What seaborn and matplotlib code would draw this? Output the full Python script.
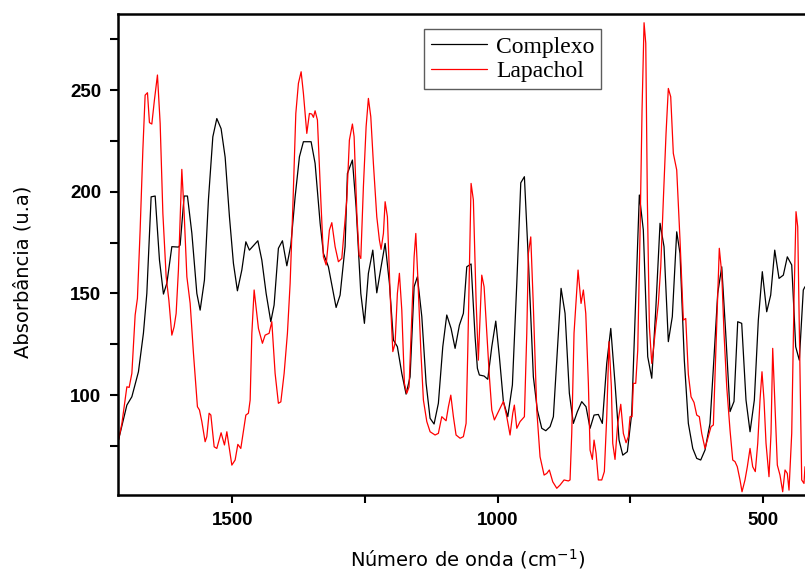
import matplotlib
matplotlib.use("Agg")
import matplotlib.pyplot as plt
from matplotlib.ticker import MultipleLocator
import seaborn as sns
import pandas as pd

series_names = ["Complexo", "Lapachol"]
series_colors = ["black", "red"]

complexo_wn = [1714.1, 1698.3, 1688.9, 1676.5, 1667.1, 1660.7, 1652.6, 1645.0, 1636.9, 1629.4,
               1623.0, 1613.6, 1601.2, 1598.0, 1590.4, 1584.2, 1575.9, 1566.5, 1560.3, 1552.2,
               1544.7, 1536.4, 1528.9, 1520.8, 1513.2, 1505.1, 1497.6, 1490.1, 1481.8, 1474.2,
               1467.5, 1451.6, 1444.1, 1436.0, 1427.2, 1421.0, 1412.9, 1405.3, 1397.0, 1389.5,
               1381.4, 1373.3, 1365.8, 1351.3, 1343.8, 1334.3, 1328.1, 1318.7, 1310.4, 1304.2,
               1296.7, 1287.3, 1282.9, 1273.5, 1266.6, 1257.7, 1250.9, 1243.4, 1235.1, 1227.6,
               1219.5, 1211.9, 1203.8, 1196.3, 1188.8, 1180.5, 1172.4, 1164.9, 1157.3, 1151.1,
               1142.8, 1134.7, 1127.2, 1119.7, 1111.6, 1103.3, 1095.8, 1087.7, 1080.1, 1072.0,
               1064.5, 1058.1, 1050.0, 1042.5, 1038.1, 1034.4, 1025.5, 1018.6, 1011.0, 1003.5,
               996.7, 989.2, 980.9, 972.2, 963.9, 956.4, 949.6, 942.1, 932.7, 925.2,
               916.9, 909.3, 901.2, 895.0, 888.6, 880.5, 873.0, 864.9, 857.4, 849.8,
               841.6, 833.5, 825.9, 818.4, 810.3, 802.8, 794.5, 786.9, 778.9, 771.3,
               764.3, 755.7, 747.4, 739.9, 733.1, 725.6, 717.3, 709.7, 702.2, 694.1,
               686.6, 678.5, 671.0, 662.7, 656.5, 648.4, 640.8, 632.5, 625.0, 617.5,
               609.4, 600.0, 592.4, 585.5, 577.9, 570.4, 562.3, 554.8, 547.8, 540.3,
               532.2, 524.6, 516.5, 509.0, 501.5, 493.2, 485.7, 478.1, 470.0, 461.9,
               454.4, 446.1, 438.6, 431.8, 424.3, 421.1]
complexo_abs = [77.9, 95.1, 99.2, 111.5, 130.5, 150.0, 197.5, 197.9, 166.4, 149.7,
                155.0, 173.0, 172.8, 173.8, 197.9, 197.9, 179.6, 150.0, 141.8, 156.6,
                196.0, 227.0, 236.0, 231.0, 217.0, 187.7, 164.8, 151.3, 161.5, 175.4,
                171.3, 175.9, 166.4, 150.0, 136.1, 144.3, 172.2, 175.9, 163.6, 173.8,
                197.5, 217.2, 224.6, 224.6, 214.0, 184.5, 169.7, 163.1, 151.7, 143.1,
                149.2, 173.0, 209.0, 215.6, 192.6, 150.0, 135.3, 159.9, 171.3, 150.3,
                163.1, 174.6, 155.0, 127.1, 123.8, 110.7, 100.5, 109.0, 153.3, 158.2,
                138.6, 105.8, 88.6, 85.8, 96.0, 123.8, 139.4, 132.8, 123.0, 134.4,
                140.2, 163.1, 164.5, 128.8, 113.2, 109.9, 109.4, 107.8, 123.8, 136.4,
                118.9, 96.9, 89.4, 105.0, 155.0, 204.4, 207.4, 166.4, 109.0, 92.7,
                83.7, 82.5, 84.5, 89.4, 117.2, 152.5, 140.2, 100.9, 86.1, 91.9,
                96.8, 94.3, 83.7, 90.2, 90.5, 86.1, 115.6, 132.8, 105.8, 77.9,
                70.5, 72.2, 91.1, 146.7, 198.4, 181.2, 118.9, 108.3, 141.8, 184.5,
                173.0, 126.3, 138.6, 180.3, 169.7, 117.2, 86.1, 73.8, 68.9, 68.1,
                73.0, 86.1, 118.9, 150.0, 163.1, 130.4, 91.9, 96.9, 136.1, 135.3,
                97.6, 82.0, 97.6, 136.9, 160.7, 141.0, 149.2, 171.3, 157.4, 159.0,
                168.0, 164.0, 123.8, 117.2, 151.7, 153.3]

lapachol_wn = [1714.1, 1707.7, 1698.3, 1694.0, 1688.9, 1682.7, 1678.4, 1673.3, 1668.2, 1663.9,
               1659.5, 1655.8, 1651.3, 1646.4, 1640.7, 1635.6, 1630.5, 1624.3, 1619.2, 1613.6,
               1609.3, 1605.5, 1601.2, 1594.8, 1590.4, 1585.3, 1579.1, 1572.9, 1565.4, 1561.6,
               1557.1, 1550.9, 1547.7, 1543.4, 1540.1, 1533.9, 1528.9, 1520.8, 1514.5, 1510.0,
               1500.6, 1494.4, 1489.3, 1483.7, 1474.2, 1469.4, 1466.1, 1462.9, 1458.6, 1450.5,
               1443.0, 1437.9, 1430.4, 1425.3, 1419.1, 1412.9, 1408.3, 1402.1, 1395.9, 1390.8,
               1385.7, 1380.1, 1375.2, 1370.1, 1365.8, 1359.4, 1354.5, 1350.0, 1346.9, 1343.8,
               1339.4, 1333.0, 1328.1, 1323.0, 1316.8, 1312.3, 1306.1, 1299.9, 1293.5, 1284.1,
               1279.2, 1273.5, 1270.3, 1265.2, 1260.9, 1257.7, 1252.8, 1247.7, 1243.4, 1238.9,
               1234.0, 1227.6, 1222.7, 1219.5, 1215.1, 1211.9, 1207.6, 1202.5, 1197.4, 1193.1,
               1188.8, 1185.0, 1180.5, 1175.6, 1171.1, 1166.8, 1161.7, 1157.3, 1154.1, 1150.4,
               1144.7, 1139.8, 1133.4, 1127.2, 1117.8, 1111.6, 1105.2, 1097.1, 1092.7, 1088.2,
               1083.3, 1078.3, 1070.7, 1064.5, 1059.4, 1056.2, 1053.2, 1050.0, 1045.7, 1040.6,
               1036.3, 1029.9, 1025.5, 1020.4, 1015.5, 1011.0, 1006.1, 1001.6, 996.7, 989.2,
               982.8, 976.6, 971.5, 968.5, 963.9, 957.7, 949.6, 945.1, 942.1, 937.6,
               932.7, 926.3, 920.1, 912.5, 907.5, 902.6, 896.2, 888.6, 882.4, 874.9,
               866.8, 863.6, 860.4, 856.1, 848.5, 842.9, 838.5, 834.0, 829.1, 825.9,
               821.6, 818.4, 814.6, 810.3, 803.9, 799.0, 794.5, 790.2, 785.8, 783.2,
               778.9, 773.8, 768.1, 763.2, 758.1, 753.8, 750.6, 746.8, 744.4, 739.9,
               736.1, 731.8, 728.0, 724.2, 721.0, 718.0, 714.2, 709.7, 706.7, 702.2,
               697.3, 692.8, 687.9, 682.8, 678.5, 674.0, 669.1, 662.7, 656.5, 650.2,
               645.7, 640.8, 635.7, 630.1, 625.0, 620.1, 615.6, 609.4, 603.2, 598.1,
               593.7, 588.7, 582.5, 577.9, 573.6, 568.5, 562.3, 557.2, 552.9, 548.6,
               543.5, 539.7, 534.1, 529.7, 524.6, 519.6, 514.7, 510.1, 505.8, 502.1,
               498.3, 494.5, 488.9, 485.1, 481.9, 477.6, 473.2, 468.2, 463.1, 458.7,
               454.4, 451.2, 446.1, 441.8, 438.0, 434.8, 430.5, 427.3, 423.0, 421.1]
lapachol_abs = [77.9, 86.0, 104.1, 103.8, 110.7, 139.4, 147.6, 181.2, 220.5, 247.5,
                248.7, 234.0, 233.3, 245.1, 257.4, 233.6, 189.4, 158.2, 146.7, 129.5,
                133.6, 140.2, 161.5, 211.0, 189.4, 158.2, 145.1, 120.6, 94.3, 92.7,
                87.0, 77.1, 79.6, 91.1, 90.2, 74.6, 73.8, 81.5, 75.5, 82.0,
                65.6, 68.1, 75.8, 73.8, 90.2, 91.1, 97.6, 130.4, 151.7, 132.8,
                125.5, 129.5, 130.4, 136.1, 110.7, 96.0, 96.7, 110.7, 130.4, 155.0,
                192.6, 238.5, 253.3, 259.0, 248.4, 228.7, 238.5, 238.2, 236.6, 239.8,
                235.3, 196.0, 168.0, 164.0, 181.2, 184.8, 173.0, 165.6, 167.2, 196.0,
                225.4, 233.3, 227.1, 189.4, 168.9, 167.2, 202.5, 232.0, 245.9, 236.9,
                214.0, 187.7, 176.3, 171.7, 179.5, 195.1, 187.7, 150.0, 121.4, 125.5,
                150.0, 159.9, 141.8, 105.8, 100.9, 104.1, 138.6, 168.0, 179.5, 158.2,
                122.2, 97.6, 87.0, 82.0, 80.4, 81.2, 89.4, 87.4, 94.3, 100.0,
                89.4, 80.4, 78.8, 79.6, 86.1, 122.2, 163.1, 204.1, 196.0, 146.7,
                117.2, 159.0, 153.3, 130.4, 109.0, 92.7, 87.8, 90.2, 92.7, 96.9,
                89.4, 80.4, 91.1, 95.1, 83.7, 87.0, 89.4, 130.4, 169.7, 177.8,
                143.5, 92.7, 69.7, 60.7, 61.5, 63.2, 57.4, 54.2, 55.8, 58.3,
                57.8, 58.3, 81.3, 130.5, 161.5, 145.1, 151.7, 140.2, 105.8, 73.0,
                68.4, 77.9, 71.4, 58.3, 58.3, 62.4, 89.4, 126.3, 104.1, 76.3,
                68.4, 86.1, 95.5, 81.2, 76.6, 79.6, 89.4, 89.4, 105.8, 105.8,
                122.2, 179.5, 240.2, 283.1, 273.0, 196.0, 133.6, 115.6, 122.2, 133.6,
                145.1, 163.1, 196.0, 228.7, 250.8, 246.7, 218.9, 210.7, 176.3, 136.9,
                137.7, 110.2, 99.2, 96.4, 90.2, 89.4, 81.2, 73.8, 79.6, 84.5,
                85.3, 123.8, 172.2, 159.9, 130.4, 104.1, 82.8, 68.1, 67.3, 64.8,
                58.3, 52.5, 58.3, 64.8, 73.8, 64.8, 62.4, 76.3, 97.6, 111.5,
                97.6, 76.3, 59.9, 81.2, 123.0, 94.3, 65.6, 60.7, 52.5, 63.2,
                61.5, 53.3, 81.2, 146.7, 190.2, 182.8, 110.2, 58.3, 56.6, 64.8]

x_ticks = [1500, 1000, 500]
y_ticks = [100, 150, 200, 250]
x_label = "Número de onda (cm$^{-1}$)"
y_label = "Absorbância (u.a)"

df = pd.concat([
    pd.DataFrame({"wn": complexo_wn, "abs": complexo_abs, "serie": series_names[0]}),
    pd.DataFrame({"wn": lapachol_wn, "abs": lapachol_abs, "serie": series_names[1]}),
], ignore_index=True)

sns.set_style("ticks")
plt.rcParams.update({
    "mathtext.default": "regular",
    "text.color": "black",
    "axes.labelcolor": "black",
    "xtick.color": "black",
    "ytick.color": "black",
    "axes.edgecolor": "black",
})

W, H = 805, 571
fig = plt.figure(figsize=(W / 100, H / 100), dpi=100)
ax = fig.add_axes([118 / W, 1 - 495 / H, 700 / W, 481 / H])

sns.lineplot(data=df, x="wn", y="abs", hue="serie", hue_order=series_names,
             palette=dict(zip(series_names, series_colors)), sort=False,
             estimator=None, linewidth=0.9, ax=ax)

ax.set_xlim(1715, 396.6)
ax.set_ylim(50.9, 287.4)
ax.set_xticks(x_ticks)
ax.set_yticks(y_ticks)
ax.xaxis.set_minor_locator(MultipleLocator(250))
ax.yaxis.set_minor_locator(MultipleLocator(25))
ax.tick_params(which="both", direction="out", length=6, width=1.5, color="black")
ax.tick_params(which="major", pad=6, labelsize=13.5, labelcolor="black")
for lab in ax.get_xticklabels() + ax.get_yticklabels():
    lab.set_fontfamily("Liberation Sans")
    lab.set_fontweight("bold")

for side in ["top", "left", "bottom"]:
    ax.spines[side].set_linewidth(1.8)
    ax.spines[side].set_color("black")
ax.spines["right"].set_visible(False)

ax.set_xlabel(x_label, fontsize=14, fontfamily="DejaVu Sans", color="black")
ax.set_ylabel(y_label, fontsize=14, fontfamily="DejaVu Sans", color="black")
ax.xaxis.label.set_va("center")
ax.yaxis.label.set_va("center")
ax.xaxis.set_label_coords(0.5, (495 - 559) / 481)
ax.yaxis.set_label_coords((23 - 118) / 700, (495 - 272) / 481)

handles, labels = ax.get_legend_handles_labels()
leg = ax.legend(handles, labels, loc="upper left",
                bbox_to_anchor=((424 - 118) / 700, (495 - 29) / 481),
                borderaxespad=0, frameon=True, fancybox=False,
                prop={"family": "Liberation Serif", "size": 17},
                handlelength=2.35, handletextpad=0.4, borderpad=0.3,
                labelspacing=0.12)
leg.get_frame().set_edgecolor("#333333")
leg.get_frame().set_linewidth(1.0)
for t in leg.get_texts():
    t.set_color("black")
for h in leg.get_lines():
    h.set_linewidth(0.9)

fig.savefig("out.png", dpi=100)
